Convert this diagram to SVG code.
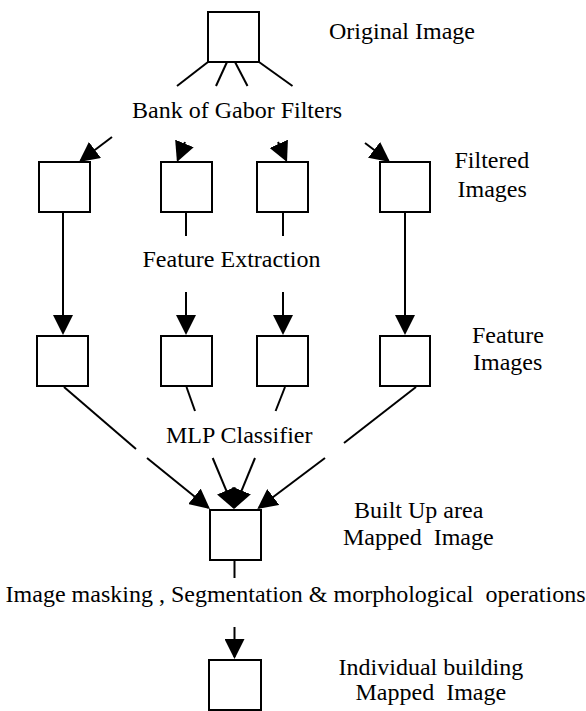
<svg xmlns="http://www.w3.org/2000/svg" width="586" height="711" viewBox="0 0 586 711">
<style>
.box{fill:#fff;stroke:#000;stroke-width:2}
.ln{fill:none;stroke:#000;stroke-width:2}
.ar{fill:none;stroke:#000;stroke-width:2;marker-end:url(#ah)}
.t{font-family:"Liberation Serif","Times New Roman",serif;font-size:24px;fill:#000;white-space:pre}
</style>
<defs>
<marker id="ah" markerUnits="userSpaceOnUse" viewBox="0 0 20 20" refX="18" refY="10" markerWidth="20" markerHeight="20" orient="auto">
<path d="M0,0 L20,10 L0,20 Z" fill="#000"/>
</marker>
</defs>
<rect width="586" height="711" fill="#fff"/>
<g id="connectors">
<line class="ln" x1="208" y1="62" x2="177" y2="86"/>
<line class="ln" x1="227" y1="62" x2="216" y2="86"/>
<line class="ln" x1="235" y1="62" x2="247.5" y2="86"/>
<line class="ln" x1="259" y1="62" x2="292.5" y2="86"/>
<line class="ar" x1="112" y1="137" x2="80.6" y2="160.8"/>
<line class="ar" x1="185" y1="142" x2="177.7" y2="160.1"/>
<line class="ar" x1="278" y1="142" x2="286.2" y2="160.2"/>
<line class="ar" x1="365" y1="143" x2="388.4" y2="160.8"/>
<line class="ar" x1="63" y1="212" x2="63" y2="333"/>
<line class="ln" x1="186" y1="212" x2="186" y2="236"/>
<line class="ar" x1="186" y1="292" x2="186" y2="333"/>
<line class="ln" x1="283" y1="212" x2="283" y2="236"/>
<line class="ar" x1="283" y1="292" x2="283" y2="333"/>
<line class="ar" x1="405" y1="212" x2="405" y2="333"/>
<line class="ln" x1="64" y1="387" x2="136" y2="449"/>
<line class="ar" x1="147" y1="458" x2="208.4" y2="507.7"/>
<line class="ln" x1="186.5" y1="387" x2="195" y2="411"/>
<line class="ar" x1="212.7" y1="458" x2="233.2" y2="507.2"/>
<line class="ln" x1="285" y1="387" x2="275.6" y2="411"/>
<line class="ar" x1="255" y1="458" x2="234.8" y2="507.2"/>
<line class="ln" x1="416" y1="387" x2="344" y2="443"/>
<line class="ar" x1="325" y1="458" x2="258.9" y2="507.8"/>
<line class="ln" x1="234.5" y1="560" x2="234.5" y2="578"/>
<line class="ar" x1="234.5" y1="627" x2="234.5" y2="657"/>
</g>
<g id="original"><rect class="box" x="208" y="12" width="51" height="50"/><text class="t" x="329" y="39">Original Image</text></g>
<g id="gabor"><text class="t" x="132" y="118">Bank of Gabor Filters</text></g>
<g id="filtered1"><rect class="box" x="39" y="162" width="51" height="50"/></g>
<g id="filtered2"><rect class="box" x="161" y="162" width="51" height="50"/></g>
<g id="filtered3"><rect class="box" x="257" y="162" width="51" height="50"/></g>
<g id="filtered4"><rect class="box" x="380" y="162" width="50" height="50"/></g>
<g id="filtered-label"><text class="t" x="454.5" y="168">Filtered</text><text class="t" x="457.5" y="197">Images</text></g>
<g id="extraction"><text class="t" x="142.5" y="267">Feature Extraction</text></g>
<g id="feature1"><rect class="box" x="37" y="336" width="51" height="50"/></g>
<g id="feature2"><rect class="box" x="161" y="336" width="51" height="50"/></g>
<g id="feature3"><rect class="box" x="257" y="336" width="51" height="50"/></g>
<g id="feature4"><rect class="box" x="380" y="336" width="50" height="50"/></g>
<g id="feature-label"><text class="t" x="472" y="343">Feature</text><text class="t" x="473" y="370">Images</text></g>
<g id="mlp"><text class="t" x="166" y="443">MLP Classifier</text></g>
<g id="builtup"><rect class="box" x="210" y="510" width="51" height="50"/><text class="t" x="354" y="518">Built Up area</text><text class="t" x="343" y="545">Mapped  Image</text></g>
<g id="masking"><text class="t" x="5.6" y="602">Image masking , Segmentation &amp; morphological  operations</text></g>
<g id="individual"><rect class="box" x="209" y="660" width="52" height="50"/><text class="t" x="338.6" y="675">Individual building</text><text class="t" x="355.5" y="700">Mapped  Image</text></g>
</svg>
